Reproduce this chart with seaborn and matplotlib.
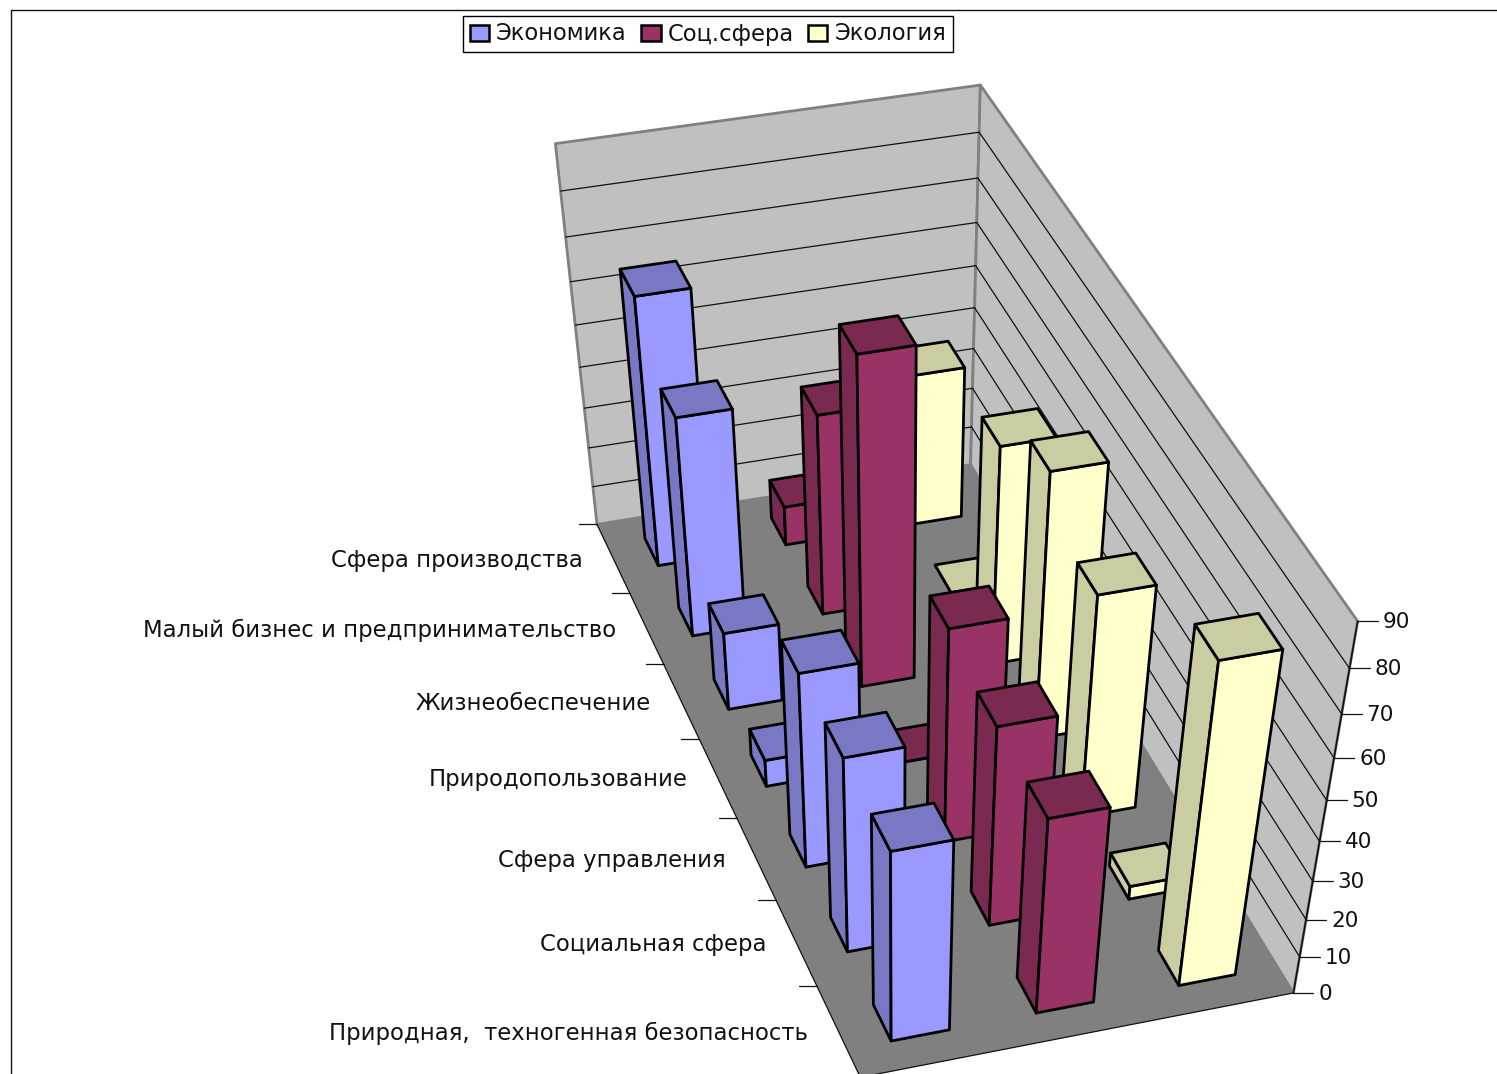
import numpy as np
import pandas as pd
import matplotlib
matplotlib.use("Agg")
import matplotlib.pyplot as plt
from matplotlib.patches import Polygon, Patch
import seaborn as sns

categories = ["Сфера производства", "Малый бизнес и предпринимательство",
              "Жизнеобеспечение", "Природопользование", "Сфера управления",
              "Социальная сфера", "Природная,  техногенная безопасность"]
series_names = ["Экономика", "Соц.сфера", "Экология"]
economy = [66, 54.5, 20, 7, 49.5, 50, 49.5]
social = [10, 50, 80, 0, 54, 51, 50.5]
ecology = [38, 0, 54.5, 66, 56, 3.5, 80]
value_ticks = list(range(0, 100, 10))

front_colors = ["#9999FF", "#993366", "#FFFFCC"]
shade_colors = ["#7878C4", "#7A2950", "#CCCCA3"]

sns.set_theme(style="white")
plt.rcParams["font.family"] = ["DejaVu Sans"]

W, H = 1497, 1074
fig = plt.figure(figsize=(W / 100, H / 100), dpi=100)
ax = fig.add_axes([0, 0, 1, 1])
ax.set_xlim(0, W)
ax.set_ylim(H, 0)
ax.axis("off")

# Perspective camera fitted to the box: (category, series share, value) -> canvas
box_refs = np.array([
    (0, 0, 0, 598, 522), (7, 0, 0, 862, 1078), (7, 1, 0, 1292, 993),
    (0, 1, 0, 970, 465), (0, 0, 90, 554, 145), (0, 1, 90, 982, 85),
    (7, 1, 90, 1357, 619), (7, 1, 50, 1327, 801), (7, 1, 30, 1313, 882),
    (7, 1, 10, 1300, 957), (3, 0, 0, 698, 741), (6, 0, 0, 817, 985),
], dtype=float)
rows, rhs = [], []
for c, s, z, u, v in box_refs:
    rows.append([c, s, z, 1, 0, 0, 0, 0, -u * c, -u * s, -u * z])
    rows.append([0, 0, 0, 0, c, s, z, 1, -v * c, -v * s, -v * z])
    rhs += [u, v]
cam = np.linalg.lstsq(np.array(rows), np.array(rhs), rcond=None)[0]
cam = np.append(cam, 1.0).reshape(3, 4)


def project(c, s, z):
    x, y, w = cam @ np.array([c, s, z, 1.0])
    return x / w, y / w


def face(points, color, lw=0.0, edge="black", z=1):
    ax.add_patch(Polygon([project(*p) for p in points], closed=True,
                         facecolor=color, edgecolor=edge, linewidth=lw,
                         joinstyle="round", zorder=z))


n_cat = len(categories)
top_z = value_ticks[-1]

# Walls and floor
face([(0, 0, 0), (0, 1, 0), (0, 1, top_z), (0, 0, top_z)], "#C0C0C0", 2.0, "#808080")
face([(0, 1, 0), (n_cat, 1, 0), (n_cat, 1, top_z), (0, 1, top_z)], "#C0C0C0", 2.0, "#808080")
face([(0, 0, 0), (n_cat, 0, 0), (n_cat, 1, 0), (0, 1, 0)], "#808080", 0, z=1.5)


def segment(a, b, lw=0.9, color="#111111", z=2):
    pa, pb = project(*a), project(*b)
    ax.plot([pa[0], pb[0]], [pa[1], pb[1]], color=color, lw=lw, zorder=z,
            solid_capstyle="round")


for v in value_ticks[1:-1]:
    segment((0, 0, v), (0, 1, v))
    segment((0, 1, v), (n_cat, 1, v))
segment((0, 0, 0), (n_cat, 0, 0))
segment((n_cat, 0, 0), (n_cat, 1, 0))
segment((n_cat, 1, 0), (n_cat, 1, top_z), lw=1.2)

# Value axis on the front right corner
for v in value_ticks:
    x, y = project(n_cat, 1, v)
    ax.plot([x, x + 20], [y, y], color="#111111", lw=0.9, zorder=2)
    ax.text(x + 25, y + 1, str(v), ha="left", va="center", fontsize=15.5, color="#111111")

# Category axis on the front left edge
for i in range(n_cat):
    x, y = project(i, 0, 0)
    ax.plot([x - 18, x], [y, y], color="#111111", lw=0.9, zorder=2)
    x, y = project(i + 0.5, 0, 0)
    ax.text(x - 30, y + 2, categories[i], ha="right", va="center", fontsize=16.4, color="#111111")

# Columns, back rows first and right series first inside a row
table = pd.DataFrame({"category": range(n_cat), series_names[0]: economy,
                      series_names[1]: social, series_names[2]: ecology})
table = table.melt("category", var_name="series", value_name="value")
table["k"] = table["series"].map({n: i for i, n in enumerate(series_names)})
table = table.sort_values(["category", "k"], ascending=[True, False])

bar_fraction = 0.4
margin = (1 - bar_fraction) / 2
order = 3.0
for row in table.itertuples():
    c0, c1 = row.category + margin, row.category + 1 - margin
    s0, s1 = (row.k + margin) / 3, (row.k + 1 - margin) / 3
    h = row.value
    front, shade = front_colors[row.k], shade_colors[row.k]
    face([(c1, s0, 0), (c0, s0, 0), (c0, s0, h), (c1, s0, h)], shade, 2.0, z=order)
    face([(c1, s0, 0), (c1, s1, 0), (c1, s1, h), (c1, s0, h)], front, 2.0, z=order + 0.01)
    face([(c0, s0, h), (c0, s1, h), (c1, s1, h), (c1, s0, h)], shade, 2.0, z=order + 0.02)
    order += 0.1

# Chart area frame: top and left rules only
ax.plot([11, W], [10, 10], color="#111111", lw=1.0, zorder=2)
ax.plot([11, 11], [10, H], color="#111111", lw=1.0, zorder=2)

handles = [Patch(facecolor=c, edgecolor="black", linewidth=1.8) for c in front_colors]
leg = ax.legend(handles, series_names, ncols=3, loc="center",
                bbox_to_anchor=(708, 34), bbox_transform=ax.transData,
                frameon=True, fancybox=False, framealpha=1, edgecolor="black",
                fontsize=16.3, handlelength=0.85, handleheight=0.7,
                handletextpad=0.3, columnspacing=0.65, borderpad=0.3,
                borderaxespad=0, labelcolor="#111111")
leg.get_frame().set_linewidth(1.0)

fig.savefig("out.png", dpi=100)
